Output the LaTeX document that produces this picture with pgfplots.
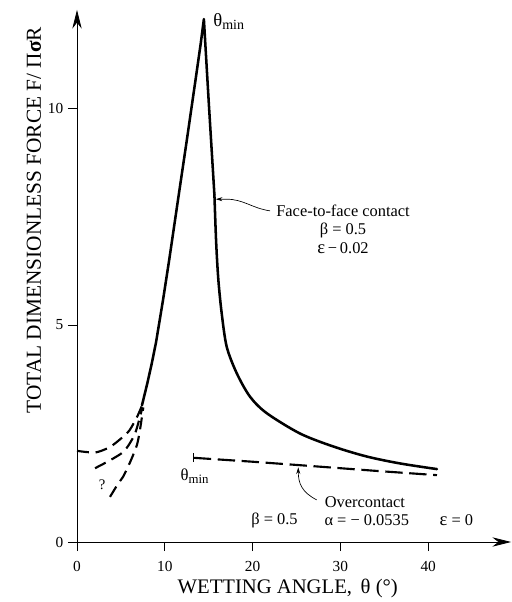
\documentclass[border=0pt]{standalone}
\usepackage{fontspec}
\setmainfont{Liberation Serif}
\usepackage{pgfplots}
\pgfplotsset{compat=1.18}
\usetikzlibrary{arrows.meta}
\begin{document}
\begin{tikzpicture}
\begin{axis}[
  scale only axis, width=325.5pt, height=399pt,
  xmin=0, xmax=49.43, ymin=0, ymax=12.26,
  axis lines=left, enlargelimits=false, clip=false,
  axis line style={line width=0.6pt, -{Stealth[length=14pt,width=7pt]}},
  xtick={0,10,20,30,40}, ytick={0,5,10},
  tick align=outside, major tick length=6.75pt,
  tick style={line width=0.6pt, black},
  tick label style={font=\fontsize{11.5}{13}\selectfont},
  xticklabel style={yshift=-4pt},
  /pgf/number format/assume math mode=true,
]
\coordinate (O) at (axis cs:0,0);
% face-to-face contact (solid): rise, peak and steep fall
\addplot[black, line width=1.9pt, line join=round, line cap=round] coordinates {
 (7.4,3.15) (8.0,3.65) (8.5,4.1) (9.0,4.6) (9.8,5.58) (10.5,6.5) (11.5,7.88)
 (12.5,9.25) (13.5,10.65) (14.1,11.5) (14.45,12.05)
 (15.0,10.15) (15.65,8.0)};
% face-to-face contact (solid): tail
\addplot[black, line width=1.9pt, smooth, tension=0.5, line cap=round] coordinates {
 (15.65,8.0) (15.85,6.9) (16.1,6.04) (16.48,5.27) (17.05,4.5) (18.19,3.89)
 (19.7,3.35) (21.6,2.97) (25.4,2.5) (29.2,2.2) (33,1.97) (36.8,1.81) (41,1.68)};
% left dashed curves
\addplot[black, line width=1.6pt, smooth, dash pattern=on 9pt off 5pt] coordinates {
 (0,2.10) (1.25,2.07) (2.28,2.07) (3.76,2.19) (5.1,2.40) (6.0,2.58) (6.95,2.93) (7.5,3.2)};
\addplot[black, line width=1.6pt, smooth, dash pattern=on 9pt off 5pt] coordinates {
 (2.05,1.70) (3.19,1.82) (4.0,1.91) (5.24,2.07) (6.0,2.27) (6.7,2.55) (7.45,3.1)};
\addplot[black, line width=1.6pt, smooth, dash pattern=on 9pt off 5pt] coordinates {
 (3.76,1.04) (4.67,1.34) (5.24,1.50) (5.8,1.73) (6.26,1.94) (6.83,2.24) (7.17,2.58) (7.55,3.1)};
% overcontact (dashed)
\addplot[black, line width=1.6pt, dash pattern=on 13pt off 5pt] coordinates {
 (13.3,1.94) (20,1.85) (25.4,1.77) (34,1.64) (41,1.54)};
\addplot[black, line width=0.8pt] coordinates {(13.3,1.84) (13.3,2.05)};
% annotations
\node[anchor=west, inner sep=0pt] at (axis cs:15.5,12.0)
  {\fontsize{14}{16}\selectfont θ\raisebox{-0.35ex}{\fontsize{10.5}{12}\selectfont min}};
\node[inner sep=0pt] at (axis cs:13.4,1.52)
  {\fontsize{12.5}{14}\selectfont θ\raisebox{-0.35ex}{\fontsize{9.6}{11}\selectfont min}};
\node[inner sep=0pt] at (axis cs:2.85,1.31) {\fontsize{11}{13}\selectfont ?};
\node[align=center, inner sep=0pt, font=\fontsize{12.3}{13.8}\selectfont] at (axis cs:30.3,7.21)
  {Face-to-face contact\\ β = 0.5\\ {\fontsize{14}{14}\selectfont ε}\,−\,0.02};
\draw[line width=0.5pt, -{Stealth[length=5pt,width=3pt]}] (axis cs:22.0,7.63)
  .. controls (axis cs:19.8,7.70) and (axis cs:19.0,7.90) .. (axis cs:17.0,7.90) -- (axis cs:15.8,7.90);
\node[anchor=west, inner sep=0pt, font=\fontsize{12.3}{14}\selectfont] at (axis cs:28.2,0.92) {Overcontact};
\draw[line width=0.5pt, -{Stealth[length=5pt,width=3pt]}] (axis cs:27.3,0.97)
  .. controls (axis cs:25.6,1.15) and (axis cs:25.2,1.35) .. (axis cs:25.2,1.72);
\node[inner sep=0pt, font=\fontsize{12.3}{14}\selectfont] at (axis cs:22.5,0.5) {β = 0.5};
\node[inner sep=0pt, font=\fontsize{12.3}{14}\selectfont] at (axis cs:33.0,0.5) {α = − 0.0535};
\node[inner sep=0pt, font=\fontsize{12.3}{14}\selectfont] at (axis cs:43.2,0.5) {{\fontsize{14}{14}\selectfont ε} = 0};
% axis labels
\node[inner sep=0pt, font=\fontsize{15.5}{17}\selectfont] at (axis cs:24,-1.06) {WETTING ANGLE,\, θ (°)};
\node[rotate=90, inner sep=0pt, font=\fontsize{16}{17}\selectfont] at (axis cs:-4.9,7.42)
  {TOTAL DIMENSIONLESS FORCE F/ Π\textbf{σ}R};
\end{axis}
\path (O) ++(-57.75pt,-45pt) rectangle ++(383.25pt,451.5pt);
\end{tikzpicture}
\end{document}
